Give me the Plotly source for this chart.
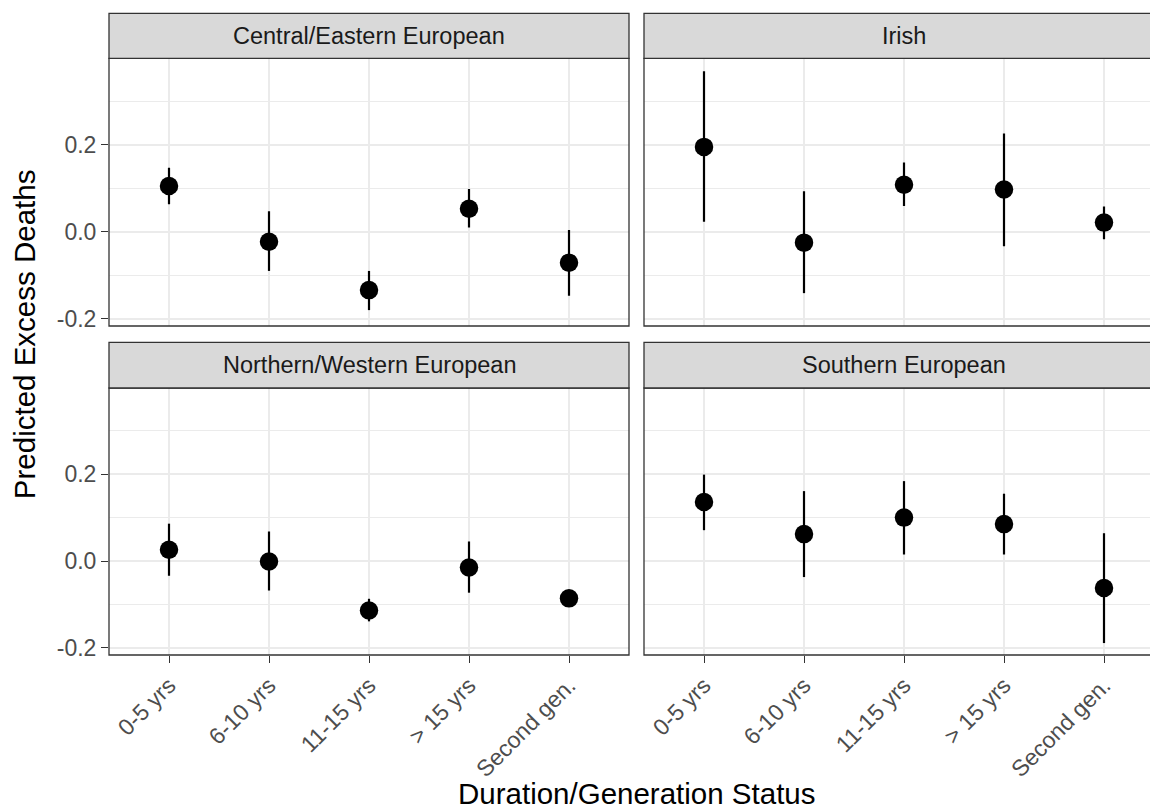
import plotly.graph_objects as go

# ---------------- data ----------------
categories = ["0-5 yrs", "6-10 yrs", "11-15 yrs", "> 15 yrs", "Second gen."]
panel_titles = ["Central/Eastern European", "Irish",
                "Northern/Western European", "Southern European"]

est_central = [0.105, -0.023, -0.134, 0.053, -0.071]
lo_central = [0.063, -0.090, -0.180, 0.010, -0.147]
hi_central = [0.147, 0.047, -0.090, 0.098, 0.004]

est_irish = [0.195, -0.025, 0.108, 0.097, 0.021]
lo_irish = [0.023, -0.141, 0.059, -0.033, -0.017]
hi_irish = [0.369, 0.093, 0.159, 0.226, 0.058]

est_north = [0.026, -0.001, -0.114, -0.015, -0.086]
lo_north = [-0.034, -0.068, -0.139, -0.073, -0.094]
hi_north = [0.086, 0.068, -0.087, 0.045, -0.078]

est_south = [0.136, 0.062, 0.100, 0.085, -0.062]
lo_south = [0.071, -0.037, 0.015, 0.015, -0.189]
hi_south = [0.199, 0.161, 0.184, 0.155, 0.064]

y_tickvals = [-0.2, 0.0, 0.2]
y_ticktext = ["-0.2", "0.0", "0.2"]
y_minorvals = [-0.1, 0.1, 0.3]

x_title = "Duration/Generation Status"
y_title = "Predicted Excess Deaths"

# ---------------- layout geometry (pixels) ----------------
W, H = 1150, 812
FONT = "Liberation Sans, Arial, Helvetica, sans-serif"
GRID = "#EBEBEB"
BORDER = "#333333"

def px(x):
    return x / W

def py(y):
    return 1 - y / H

left_x = (109, 629)
right_x = (644, 1164)          # extends past the image edge (cropped)
top_y = (58.3, 326)
bot_y = (388, 655)
top_strip = (13.3, 58.3)
bot_strip = (342.3, 388)

y_range = [-0.2165, 0.3985]
x_range_full = [-0.6, 4.6]
x_range_right = [-0.6, 4.6 - (right_x[1] - W) / 100.0]

panels = [
    (est_central, lo_central, hi_central, left_x, top_y, top_strip, False, True),
    (est_irish, lo_irish, hi_irish, right_x, top_y, top_strip, False, False),
    (est_north, lo_north, hi_north, left_x, bot_y, bot_strip, True, True),
    (est_south, lo_south, hi_south, right_x, bot_y, bot_strip, True, False),
]

fig = go.Figure()
shapes = []
annotations = []
layout_axes = {}

for i, (est, lo, hi, xr, yr, sr, show_x, show_y) in enumerate(panels):
    n = i + 1
    xa = "x" if n == 1 else f"x{n}"
    ya = "y" if n == 1 else f"y{n}"
    err_plus = [h - e for h, e in zip(hi, est)]
    err_minus = [e - l for e, l in zip(est, lo)]
    fig.add_trace(go.Scatter(
        x=categories, y=est, mode="markers",
        marker=dict(color="black", size=18.5, line=dict(width=0)),
        error_y=dict(type="data", symmetric=False, array=err_plus,
                     arrayminus=err_minus, color="black", thickness=2.2, width=0),
        xaxis=xa, yaxis=ya, showlegend=False, cliponaxis=False,
    ))
    x_dom = [px(xr[0]), min(px(xr[1]), 1.0)]
    y_dom = [py(yr[1]), py(yr[0])]
    xrange = x_range_right if xr == right_x else x_range_full
    xkey = "xaxis" if n == 1 else f"xaxis{n}"
    ykey = "yaxis" if n == 1 else f"yaxis{n}"
    layout_axes[xkey] = dict(
        domain=x_dom, anchor=ya, type="category", automargin=False,
        categoryorder="array", categoryarray=categories,
        range=xrange, showgrid=True, gridcolor=GRID, gridwidth=1.7,
        zeroline=False, showline=False,
        ticks="outside" if show_x else "", ticklen=7, tickwidth=1.3,
        tickcolor=BORDER, showticklabels=show_x, tickangle=-45,
        tickfont=dict(family=FONT, size=23, color="#4D4D4D"),
    )
    layout_axes[ykey] = dict(
        domain=y_dom, anchor=xa, range=y_range, automargin=False,
        tickmode="array", tickvals=y_tickvals, ticktext=y_ticktext,
        showgrid=True, gridcolor=GRID, gridwidth=1.7,
        minor=dict(tickmode="array", tickvals=y_minorvals, showgrid=True,
                   gridcolor=GRID, gridwidth=1.0, ticks=""),
        zeroline=False, showline=False,
        ticks="outside" if show_y else "", ticklen=7, tickwidth=1.3,
        tickcolor=BORDER, showticklabels=show_y,
        tickfont=dict(family=FONT, size=23, color="#4D4D4D"),
    )
    # panel border
    shapes.append(dict(type="rect", xref="paper", yref="paper",
                       x0=px(xr[0]), x1=px(xr[1]), y0=py(yr[1]), y1=py(yr[0]),
                       line=dict(color=BORDER, width=1.3), layer="above"))
    # strip
    shapes.append(dict(type="rect", xref="paper", yref="paper",
                       x0=px(xr[0]), x1=px(xr[1]), y0=py(sr[1]), y1=py(sr[0]),
                       fillcolor="#D9D9D9",
                       line=dict(color=BORDER, width=1.3), layer="above"))
    annotations.append(dict(
        text=panel_titles[i], xref="paper", yref="paper",
        x=px((xr[0] + xr[1]) / 2), y=py((sr[0] + sr[1]) / 2),
        xanchor="center", yanchor="middle", showarrow=False,
        font=dict(family=FONT, size=23.5, color="#1A1A1A")))

annotations.append(dict(
    text=x_title, xref="paper", yref="paper",
    x=px((left_x[0] + right_x[1]) / 2), y=0.0,
    xanchor="center", yanchor="bottom", showarrow=False,
    font=dict(family=FONT, size=29.5, color="black")))
annotations.append(dict(
    text=y_title, xref="paper", yref="paper",
    x=px(24), y=py((top_strip[0] + bot_y[1]) / 2),
    xanchor="center", yanchor="middle", showarrow=False, textangle=-90,
    font=dict(family=FONT, size=29.5, color="black")))

fig.update_layout(
    width=W, height=H,
    margin=dict(l=0, r=0, t=0, b=0),
    paper_bgcolor="white", plot_bgcolor="white",
    font=dict(family=FONT),
    shapes=shapes, annotations=annotations,
    showlegend=False,
    **layout_axes,
)

fig.write_html(
    "out.html",
    config={"displayModeBar": False},
    post_script="document.body.style.margin='0';document.body.style.padding='0';"
                "document.body.style.overflow='hidden';",
)
